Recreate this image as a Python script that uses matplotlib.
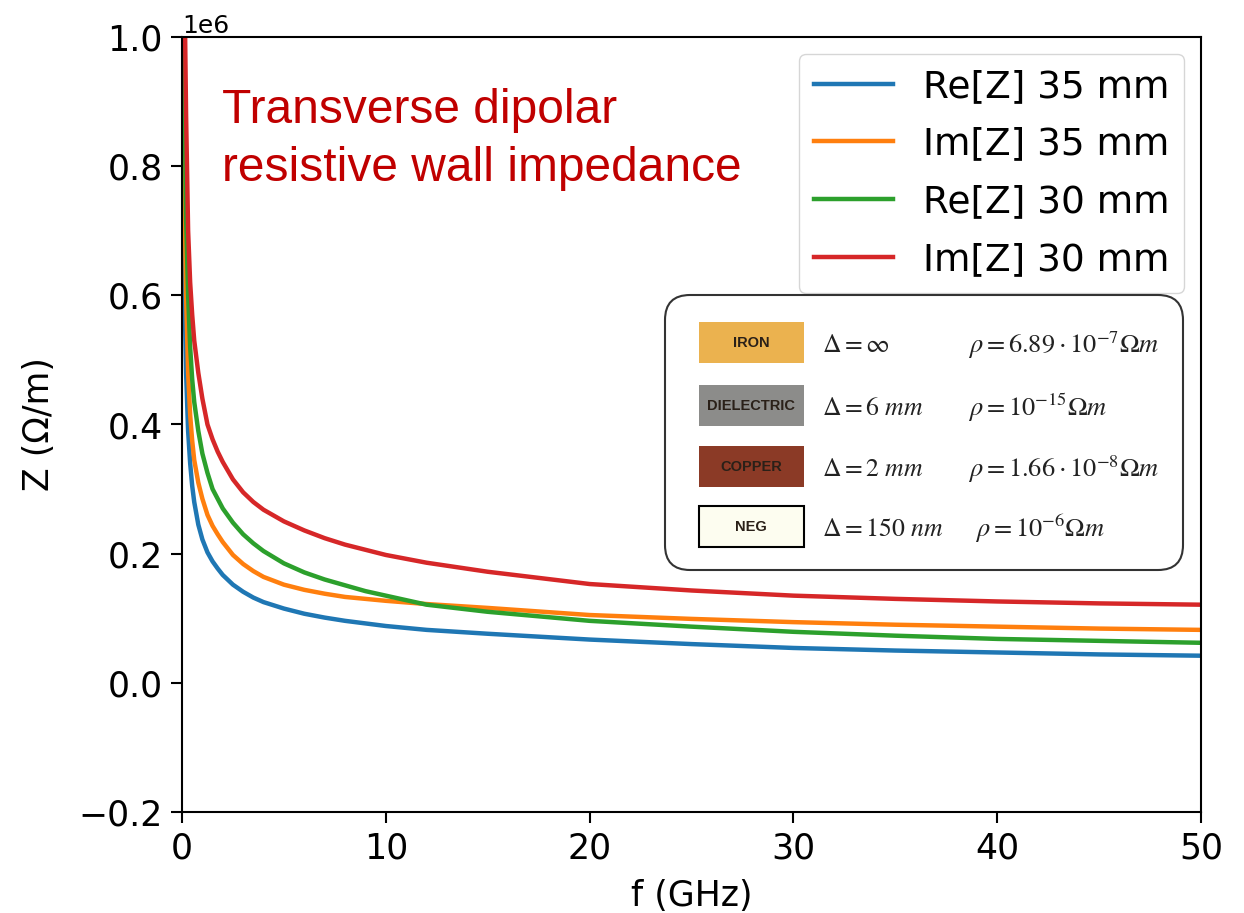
import matplotlib
matplotlib.use("Agg")
import matplotlib.pyplot as plt
from matplotlib.patches import FancyBboxPatch, Rectangle

# frequency samples (GHz) and impedances (MOhm/m)
freq_ghz = [0.05, 0.1, 0.15, 0.2, 0.3, 0.4, 0.5, 0.6, 0.8, 1.0, 1.25, 1.5, 1.75, 2.0,
            2.5, 3.0, 3.5, 4, 5, 6, 7, 8, 9, 10, 12, 15, 20, 25, 30, 35, 40, 45, 50]
re_z_35 = [1.0, 0.70, 0.56, 0.48, 0.39, 0.34, 0.305, 0.28, 0.245, 0.222, 0.202, 0.188,
           0.177, 0.167, 0.152, 0.141, 0.132, 0.125, 0.115, 0.107, 0.101, 0.096, 0.092,
           0.088, 0.082, 0.076, 0.067, 0.060, 0.054, 0.050, 0.047, 0.044, 0.042]
im_z_35 = [1.2, 0.85, 0.70, 0.60, 0.48, 0.415, 0.375, 0.345, 0.31, 0.285, 0.26, 0.243,
           0.23, 0.218, 0.198, 0.184, 0.173, 0.164, 0.152, 0.144, 0.138, 0.133, 0.130,
           0.127, 0.122, 0.116, 0.105, 0.099, 0.094, 0.090, 0.087, 0.084, 0.082]
re_z_30 = [1.4, 1.0, 0.84, 0.72, 0.60, 0.52, 0.47, 0.435, 0.39, 0.355, 0.325, 0.30,
           0.285, 0.27, 0.248, 0.23, 0.216, 0.204, 0.185, 0.171, 0.160, 0.151, 0.142,
           0.135, 0.121, 0.110, 0.096, 0.087, 0.079, 0.073, 0.068, 0.065, 0.062]
im_z_30 = [1.7, 1.22, 1.01, 0.88, 0.70, 0.62, 0.57, 0.53, 0.48, 0.44, 0.40, 0.377,
           0.358, 0.342, 0.315, 0.295, 0.28, 0.268, 0.25, 0.236, 0.224, 0.214, 0.206,
           0.198, 0.186, 0.172, 0.153, 0.143, 0.135, 0.130, 0.126, 0.123, 0.121]

series_labels = ["Re[Z] 35 mm", "Im[Z] 35 mm", "Re[Z] 30 mm", "Im[Z] 30 mm"]
series_values = [re_z_35, im_z_35, re_z_30, im_z_30]
series_colors = ["tab:blue", "tab:orange", "tab:green", "tab:red"]

# wall layers shown in the inset
layer_names = ["IRON", "DIELECTRIC", "COPPER", "NEG"]
layer_colors = ["#ebb24f", "#8c8c8a", "#8b3a26", "#fdfdf0"]
layer_thickness = [r"$\Delta = \infty$", r"$\Delta = 6\ mm$", r"$\Delta = 2\ mm$",
                   r"$\Delta = 150\ nm$"]
layer_resistivity = [r"$\rho = 6.89\cdot10^{-7}\Omega m$", r"$\rho = 10^{-15}\Omega m$",
                     r"$\rho = 1.66\cdot10^{-8}\Omega m$", r"$\rho = 10^{-6}\Omega m$"]

fig = plt.figure(figsize=(12.44, 9.13), dpi=100)
ax = fig.add_axes([182 / 1244, 1 - 812 / 913, (1201 - 182) / 1244, (812 - 37) / 913])

for values, label, color in zip(series_values, series_labels, series_colors):
    ax.plot(freq_ghz, [v * 1e6 for v in values], color=color, linewidth=3.2, label=label)

ax.set_xlim(0, 50)
ax.set_ylim(-0.2e6, 1.0e6)
ax.set_xticks([0, 10, 20, 30, 40, 50])
ax.set_yticks([-0.2e6, 0, 0.2e6, 0.4e6, 0.6e6, 0.8e6, 1.0e6])
ax.tick_params(labelsize=25, length=8, width=1.5, pad=6)
ax.yaxis.get_offset_text().set_fontsize(18)
for spine in ax.spines.values():
    spine.set_linewidth(1.5)
ax.set_xlabel("f (GHz)", fontsize=25, labelpad=10)
ax.set_ylabel("Z (Ω/m)", fontsize=25, labelpad=16)

ax.legend(loc="upper right", fontsize=27, handlelength=2.1, labelspacing=0.58,
          borderaxespad=0.45)

fig.text(222 / 1244, 1 - 88 / 913, "Transverse dipolar\nresistive wall impedance",
         color="#c00000", fontsize=34.5, family="Liberation Sans", va="top", ha="left",
         linespacing=1.36)

# inset with the wall layer structure, in pixel units
box_w, box_h = 522, 279
inset = fig.add_axes([663 / 1244, 1 - 572 / 913, box_w / 1244, box_h / 913])
inset.set_xlim(0, box_w)
inset.set_ylim(0, box_h)
inset.axis("off")
inset.add_patch(FancyBboxPatch((2, 2), box_w - 4, box_h - 4,
                               boxstyle="round,pad=0,rounding_size=25",
                               facecolor="white", edgecolor="#333333", linewidth=1.5))
row_y = [229, 166, 105, 45]
for y, name, color, thick, rho in zip(row_y, layer_names, layer_colors,
                                      layer_thickness, layer_resistivity):
    edge = "black" if name == "NEG" else "none"
    inset.add_patch(Rectangle((36, y - 20), 105, 41, facecolor=color, edgecolor=edge,
                              linewidth=1.5))
    inset.text(88, y, name, fontsize=10.5, fontweight="bold", color="#2a2018",
               family="Liberation Sans", ha="center", va="center")
    inset.text(159, y - 2, thick, fontsize=18.5, math_fontfamily="stix", va="center",
               ha="left", color="#222222")
    rho_x = 312 if name == "NEG" else 305
    inset.text(rho_x, y - 2, rho, fontsize=19, math_fontfamily="stix", va="center",
               ha="left", color="#222222")

fig.savefig("out.png", dpi=100)
